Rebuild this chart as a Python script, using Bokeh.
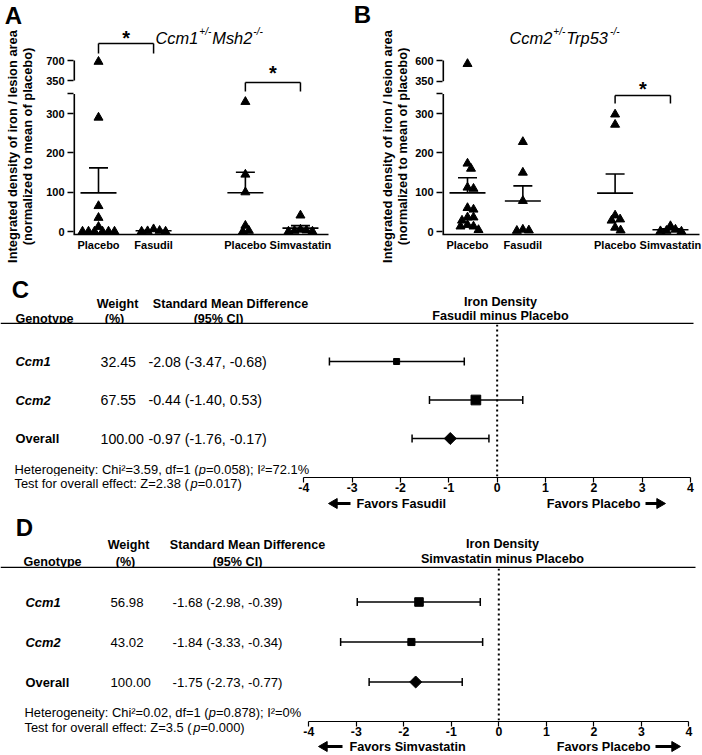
import math
from bokeh.plotting import figure
from bokeh.layouts import column, row
from bokeh.models import ColumnDataSource, FixedTicker, Whisker, TeeHead, Range1d
from bokeh.core.properties import value, field
from bokeh.embed import file_html
from bokeh.resources import INLINE

FONT = "Liberation Sans"
PAGE_W = 702

# ---------------- data ----------------
scatter_labels = ["Placebo", "Fasudil", "Placebo", "Simvastatin"]
y_label_1 = "Integrated density of iron / lesion area"
y_label_2 = "(normalized to mean of placebo)"

A_title = ("Ccm1", "+/-", "Msh2", "-/-")
A_placebo_fas = [680, 290, 65, 35, 12, 0, 0, 0, 0, 0, 0]
A_fasudil = [6, 2, 1, 0, 0]
A_placebo_sim = [330, 145, 100, 15, 2, 0]
A_simvastatin = [41, 5, 3, 2, 0, 0]
A_lower_ticks = [0, 100, 200, 300]
A_upper_ticks = [350, 700]
A_sig_pairs = [(0, 1), (2, 3)]

B_title = ("Ccm2", "+/-", "Trp53", "-/-")
B_placebo_fas = [560, 173, 160, 112, 109, 60, 56, 36, 36, 28, 17, 13, 13, 4]
B_fasudil = [228, 150, 78, 5, 3, 2]
B_placebo_sim = [298, 272, 41, 31, 28, 10, 3]
B_simvastatin = [14, 5, 2, 1, 0]
B_lower_ticks = [0, 100, 200, 300]
B_upper_ticks = [350, 600]
B_sig_pairs = [(2, 3)]

forest_names = ["Ccm1", "Ccm2", "Overall"]
forest_ticks = [-4, -3, -2, -1, 0, 1, 2, 3, 4]

C_weight = [32.45, 67.55, 100.00]
C_smd = [-2.08, -0.44, -0.97]
C_lo = [-3.47, -1.40, -1.76]
C_hi = [-0.68, 0.53, -0.17]
C_het = dict(chi2="3.59", df="1", p="0.058", i2="72.1%", z="2.38", pz="0.017")

D_weight = [56.98, 43.02, 100.00]
D_smd = [-1.68, -1.84, -1.75]
D_lo = [-2.98, -3.33, -2.73]
D_hi = [-0.39, -0.34, -0.77]
D_het = dict(chi2="0.02", df="1", p="0.878", i2="0%", z="3.5", pz="0.000")

# ---------------- helpers ----------------
W = {' ': 278, '(': 333, ')': 333, '%': 889, '+': 584, ',': 278, '-': 333, '.': 278,
     '/': 278, ':': 278, ';': 278, '=': 584, '\u00b2': 333,
     'C': 722, 'H': 722, 'I': 278, 'M': 833, 'T': 611, 'Z': 611,
     'a': 556, 'c': 500, 'd': 556, 'e': 556, 'f': 278, 'g': 556, 'h': 556, 'i': 222,
     'l': 222, 'm': 833, 'n': 556, 'o': 556, 'p': 556, 'r': 333, 's': 500, 't': 278,
     'v': 500, 'y': 500}
for ch in "0123456789":
    W[ch] = 556


def tw(s, size):
    return sum(W.get(c, 556) for c in s) * size / 1000.0


def clean(p):
    p.xgrid.visible = False
    p.ygrid.visible = False
    p.outline_line_color = None
    p.background_fill_color = "white"
    p.border_fill_color = "white"
    if "frame_align" in p.properties():
        p.frame_align = False


def txt(p, x, y, text, size, style="normal", align="left", baseline="middle", angle=0.0):
    p.text(x=[x], y=[y], text=[text], text_font=value(FONT),
           text_font_size=value("%.1fpx" % size), text_font_style=value(style),
           text_align=value(align), text_baseline=value(baseline), angle=angle,
           text_color="black")


def ref_fig(ox, oy, w, h):
    """Helper canvas whose data units are page pixels (y negated)."""
    p = figure(width=w, height=h, output_backend="svg", toolbar_location=None,
               x_range=Range1d(ox, ox + w), y_range=Range1d(-(oy + h), -oy),
               x_axis_location=None, y_axis_location=None, min_border=0)
    clean(p)
    return p


def swarm(ypix, dmin):
    order = sorted(range(len(ypix)), key=lambda i: -ypix[i])
    placed, res = [], [0.0] * len(ypix)
    for i in order:
        y = ypix[i]
        c = 0.0
        for step in range(400):
            c = (step + 1) // 2 * 0.5 * (1 if step % 2 == 1 else -1)
            if all((c - px) ** 2 + (y - py) ** 2 >= dmin * dmin for px, py in placed):
                break
        placed.append((c, y))
        res[i] = c
    return res


GROUP_POS = [3, 6, 11, 14]


def scatter_block(letter, title, groups, lower_ticks, upper_ticks, sig_pairs, g):
    # left strip: panel letter and y-axis title
    pl = ref_fig(g["ox"], 0, g["lw"], g["h"])
    txt(pl, g["letter"][0], -g["letter"][1], letter, 24, "bold", "center", "middle")
    txt(pl, g["ylab_x"][0], -g["ylab_y"], y_label_1, 12.9, "bold", "center", "middle",
        math.pi / 2)
    txt(pl, g["ylab_x"][1], -g["ylab_y"], y_label_2, 12.9, "bold", "center", "middle",
        math.pi / 2)

    px0 = g["ox"] + g["lw"]
    X = lambda r: 3 + (r - g["x0"]) / g["kx"]
    Y = lambda r: (g["base"] - r) / g["kd"]
    left = px0 + g["bl"]
    right = px0 + g["pw"] - g["br"]
    bottom = g["h"] - g["bb"]
    p = figure(width=g["pw"], height=g["h"], output_backend="svg", toolbar_location=None,
               x_range=Range1d(X(left), X(right)), y_range=Range1d(Y(bottom), Y(0)),
               min_border_left=g["bl"], min_border_right=g["br"], min_border_top=0,
               min_border_bottom=g["bb"])
    clean(p)

    lo_max = upper_ticks[0]
    up_k = (g["up_top"] - g["up_d0"]) / (upper_ticks[-1] - upper_ticks[0])

    def disp(v):
        return v if v <= lo_max else g["up_d0"] + (v - lo_max) * up_k

    up_pos = [int(round(g["up_d0"] + (u - lo_max) * up_k)) for u in upper_ticks]
    ticks = list(lower_ticks) + [lo_max] + up_pos
    overrides = {t: str(t) for t in lower_ticks}
    overrides[lo_max] = ""
    for u, t in zip(upper_ticks, up_pos):
        overrides[t] = str(u)

    ya = p.yaxis[0]
    ya.ticker = FixedTicker(ticks=ticks)
    ya.major_label_overrides = overrides
    ya.axis_line_color = None
    ya.major_tick_out = 6
    ya.major_tick_in = 0
    ya.major_tick_line_width = 1.5
    ya.minor_tick_line_color = None
    ya.major_label_standoff = 3
    ya.major_label_text_font = FONT
    ya.major_label_text_font_style = "bold"
    ya.major_label_text_font_size = "11px"
    ya.major_label_text_color = "black"

    xa = p.xaxis[0]
    xa.ticker = FixedTicker(ticks=GROUP_POS)
    xa.major_label_overrides = {pos: t for pos, t in zip(GROUP_POS, scatter_labels)}
    xa.major_tick_out = 0
    xa.major_tick_in = 0
    xa.major_tick_line_color = None
    xa.minor_tick_line_color = None
    xa.axis_line_width = 1.5
    xa.major_label_standoff = 4
    xa.major_label_text_font = FONT
    xa.major_label_text_font_style = "bold"
    xa.major_label_text_font_size = "11px"
    xa.major_label_text_color = "black"

    # broken y axis line (two pieces)
    xa0 = X(left)
    p.segment(x0=[xa0, xa0], y0=[Y(bottom), up_pos[0]], x1=[xa0, xa0],
              y1=[lo_max, up_pos[-1]], line_width=3.2, color="black")

    # points
    kyp = g["kd"]
    xs, ys = [], []
    for pos, vals in zip(GROUP_POS, groups):
        d = [disp(v) for v in vals]
        offs = swarm([v * kyp for v in d], 6.0)
        xs += [pos + o / g["kx"] for o in offs]
        ys += d
    p.scatter(xs, ys, marker="triangle", size=9, color="black")

    # mean + SEM
    means = [sum(v) / len(v) for v in groups]
    sems = [(sum((x - m) ** 2 for x in v) / (len(v) - 1)) ** 0.5 / len(v) ** 0.5
            for v, m in zip(groups, means)]
    src = ColumnDataSource(dict(x=GROUP_POS, mean=means,
                                top=[m + s for m, s in zip(means, sems)]))
    p.add_layout(Whisker(source=src, base="x", lower="mean", upper="top",
                         dimension="height", line_width=1.6, line_color="black",
                         lower_head=TeeHead(size=36, line_width=1.6, line_color="black"),
                         upper_head=TeeHead(size=19, line_width=1.6, line_color="black")))

    # significance brackets
    for (i, j), (ytop, ybot, ystar) in zip(sig_pairs, g["brackets"]):
        xi, xj = GROUP_POS[i], GROUP_POS[j]
        p.segment(x0=[xi, xi, xj], y0=[Y(ytop)] * 3, x1=[xj, xi, xj],
                  y1=[Y(ytop), Y(ybot), Y(ybot)], line_width=1.5, color="black")
        txt(p, (xi + xj) / 2.0, Y(ystar), "*", 20, "bold", "center", "middle")

    # title with superscripts
    off = 0.0
    for k, part in enumerate(title):
        sup = (k % 2 == 1)
        size = 10.0 if sup else 16.4
        txt(p, X(g["title_x"] + off), Y(g["title_y"] - (6.5 if sup else 0.0)), part, size,
            "italic", "left", "alphabetic")
        off += tw(part, size) + 1.0
    return row(column(pl), column(p))


def forest_block(letter, names, weights, smd, lo, hi, het, compare, drug, g):
    X = lambda r: -4 + (r - g["xm4"]) * 8.0 / (g["xp4"] - g["xm4"])
    Y = lambda r: 1 + (g["row1"] - r) / g["ru"]
    y0 = g["oy"]

    # header strip
    ph = ref_fig(0, y0, PAGE_W, g["hh"])
    txt(ph, g["letter"][0], -g["letter"][1], letter, 24, "bold", "center", "middle")
    wx1, wy1, wx2, wy2 = g["weight"]
    txt(ph, wx1, -wy1, "Weight", 12.6, "bold", "center", "middle")
    txt(ph, wx2, -wy2, "(%)", 12.6, "bold", "center", "middle")
    sx1, sy1, sx2, sy2 = g["smd_hdr"]
    txt(ph, sx1, -sy1, "Standard Mean Difference", 12.6, "bold", "center", "middle")
    txt(ph, sx2, -sy2, "(95% CI)", 12.6, "bold", "center", "middle")
    txt(ph, g["geno"][0], -g["geno"][1], "Genotype", 12.6, "bold", "left", "middle")
    tx, ty1, ty2 = g["title"]
    txt(ph, tx, -ty1, "Iron Density", 12.6, "bold", "center", "middle")
    txt(ph, tx, -ty2, compare, 12.6, "bold", "center", "middle")
    ph.segment(x0=[0], y0=[-g["rule_y"]], x1=[g["rule_x1"]], y1=[-g["rule_y"]],
               line_width=1.5, color="black")

    # forest body
    y1 = y0 + g["hh"]
    y2 = y1 + g["hf"]
    pf = figure(width=PAGE_W, height=g["hf"], output_backend="svg", toolbar_location=None,
                x_range=Range1d(X(0), X(PAGE_W)), y_range=Range1d(Y(y2), Y(y1)),
                x_axis_location=None, y_axis_location=None, min_border=0)
    clean(pf)
    pf.segment(x0=[0], y0=[Y(y1)], x1=[0], y1=[Y(y2)], line_width=2, line_dash="2 3",
               color="black")
    rows_y = [3, 2, 1]
    src = ColumnDataSource(dict(y=rows_y, lo=lo, hi=hi))
    pf.add_layout(Whisker(source=src, base="y", lower="lo", upper="hi", dimension="width",
                          line_width=1.5, line_color="black",
                          lower_head=TeeHead(size=8, line_width=1.5, line_color="black"),
                          upper_head=TeeHead(size=8, line_width=1.5, line_color="black")))
    pf.scatter(smd[:2], rows_y[:2], marker="square",
               size=[2.6 + 0.105 * w for w in weights[:2]], color="black")
    pf.scatter(smd[2:], rows_y[2:], marker="square", angle=math.pi / 4, size=8.5,
               color="black")
    tsrc = ColumnDataSource(dict(
        y=rows_y, name=names,
        style=["bold italic", "bold italic", "bold"],
        w=["%.2f" % w for w in weights],
        ci=["%.2f (%.2f, %.2f)" % t for t in zip(smd, lo, hi)]))
    cn, cw, cs = g["cols"]
    pf.text(x=X(cn), y="y", text="name", source=tsrc, text_font=value(FONT),
            text_font_size=value("12.9px"), text_font_style=field("style"),
            text_baseline="middle", text_align="left", text_color="black")
    vs = value("%.1fpx" % g["val_size"])
    pf.text(x=X(cw), y="y", text="w", source=tsrc, text_font=value(FONT),
            text_font_size=vs, text_baseline="middle", text_align="left", text_color="black")
    pf.text(x=X(cs), y="y", text="ci", source=tsrc, text_font=value(FONT),
            text_font_size=vs, text_baseline="middle", text_align="left", text_color="black")
    hx, hy1, hy2 = g["het"]
    off = 0.0
    for text, style in [("Heterogeneity: Chi\u00b2=%s, df=%s (" % (het["chi2"], het["df"]), "normal"),
                        ("p", "italic"),
                        ("=%s); I\u00b2=%s" % (het["p"], het["i2"]), "normal")]:
        txt(pf, X(hx + off), Y(hy1), text, 12.9, style, "left", "middle")
        off += tw(text, 12.9)

    # axis strip: test-for-effect text on the left, forest x axis on the right
    pt = ref_fig(0, y2, g["lw"], g["ha"])
    off = 0.0
    for text, style in [("Test for overall effect: Z=%s (" % het["z"], "normal"),
                        ("p", "italic"),
                        ("=%s)" % het["pz"], "normal")]:
        txt(pt, hx + off, -hy2, text, 12.9, style, "left", "middle")
        off += tw(text, 12.9)

    ax_l = g["lw"] + g["abl"]
    ax_r = PAGE_W - g["abr"]
    pa = figure(width=PAGE_W - g["lw"], height=g["ha"], output_backend="svg",
                toolbar_location=None, x_range=Range1d(X(ax_l), X(ax_r)),
                y_range=Range1d(0, 1), y_axis_location=None,
                min_border_left=g["abl"], min_border_right=g["abr"], min_border_top=0,
                min_border_bottom=g["ha"] - 1)
    clean(pa)
    pa.segment(x0=[0], y0=[0], x1=[0], y1=[1], line_width=2, line_dash="2 3", color="black")
    xa = pa.xaxis[0]
    xa.bounds = (forest_ticks[0], forest_ticks[-1])
    xa.ticker = FixedTicker(ticks=forest_ticks)
    xa.major_label_overrides = {t: str(t) for t in forest_ticks}
    xa.major_tick_out = 5
    xa.major_tick_in = 0
    xa.major_tick_line_width = 1.2
    xa.minor_tick_line_color = None
    xa.axis_line_width = 1.2
    xa.major_label_standoff = 0
    xa.major_label_text_font = FONT
    xa.major_label_text_font_style = "bold"
    xa.major_label_text_font_size = "12.3px"
    xa.major_label_text_color = "black"

    # favors strip
    y3 = y2 + g["ha"]
    pv = ref_fig(0, y3, PAGE_W, g["hv"])
    fy = -g["favors_y"]
    a1, a2, t1, t2, a3, a4 = g["fav"]
    txt(pv, t1, fy, "Favors " + drug, 12.7, "bold", "left", "middle")
    txt(pv, t2, fy, "Favors Placebo", 12.7, "bold", "right", "middle")
    hl = 5.8  # tip-to-centre distance of a size-10 triangle
    pv.segment(x0=[a2, a3], y0=[fy, fy], x1=[a1 + hl, a4 - hl], y1=[fy, fy],
               line_width=3, color="black")
    pv.scatter([a1 + hl], [fy], marker="triangle", angle=math.pi / 2, size=10, color="black")
    pv.scatter([a4 - hl], [fy], marker="triangle", angle=-math.pi / 2, size=10, color="black")

    return column(ph, pf, row(column(pt), column(pa)), pv)


gA = dict(ox=0, lw=38, pw=313, h=268, bl=35, br=23, bb=34, x0=98.0, kx=18.36, base=231.0,
          kd=0.393, up_d0=384, up_top=435, brackets=[(43, 53, 37), (82, 91, 72)],
          title_x=155, title_y=37, letter=(13, 15), ylab_x=(12, 27), ylab_y=146)
gB = dict(ox=351, lw=59, pw=292, h=268, bl=32, br=3, bb=34, x0=467.0, kx=18.45, base=231.0,
          kd=0.393, up_d0=382, up_top=435, brackets=[(95, 103, 88)],
          title_x=509, title_y=37, letter=(362, 14), ylab_x=(387, 402), ylab_y=146)
gC = dict(oy=268, hh=56, hf=152, ha=20, hv=14, lw=293, abl=10, abr=11,
          xm4=303.3, xp4=690.0, row1=438.0, ru=38.5, letter=(20, 289),
          weight=(117, 303, 114, 318), smd_hdr=(230, 303, 218, 318), geno=(15, 318),
          cols=(15, 100, 148), val_size=14.2, het=(14, 469, 483), title=(500, 301, 315),
          rule_y=323, rule_x1=693, favors_y=503, fav=(328, 350, 356, 640, 645, 665))
gD = dict(oy=510, hh=58, hf=152, ha=20, hv=15, lw=298, abl=10, abr=13,
          xm4=308.3, xp4=688.3, row1=681.5, ru=40.0, letter=(24, 527),
          weight=(128, 544, 125, 561), smd_hdr=(247, 544, 237, 561), geno=(23, 561),
          cols=(25, 110, 172), val_size=13.2, het=(24, 712, 727), title=(502, 543, 558),
          rule_y=567, rule_x1=695, favors_y=746, fav=(318, 342, 349, 650, 655, 680))

blockA = scatter_block("A", A_title, [A_placebo_fas, A_fasudil, A_placebo_sim, A_simvastatin],
                       A_lower_ticks, A_upper_ticks, A_sig_pairs, gA)
blockB = scatter_block("B", B_title, [B_placebo_fas, B_fasudil, B_placebo_sim, B_simvastatin],
                       B_lower_ticks, B_upper_ticks, B_sig_pairs, gB)
blockC = forest_block("C", forest_names, C_weight, C_smd, C_lo, C_hi, C_het,
                      "Fasudil minus Placebo", "Fasudil", gC)
blockD = forest_block("D", forest_names, D_weight, D_smd, D_lo, D_hi, D_het,
                      "Simvastatin minus Placebo", "Simvastatin", gD)

layout = column(row(blockA, blockB), blockC, blockD)
open("out.html", "w").write(file_html(layout, INLINE))
